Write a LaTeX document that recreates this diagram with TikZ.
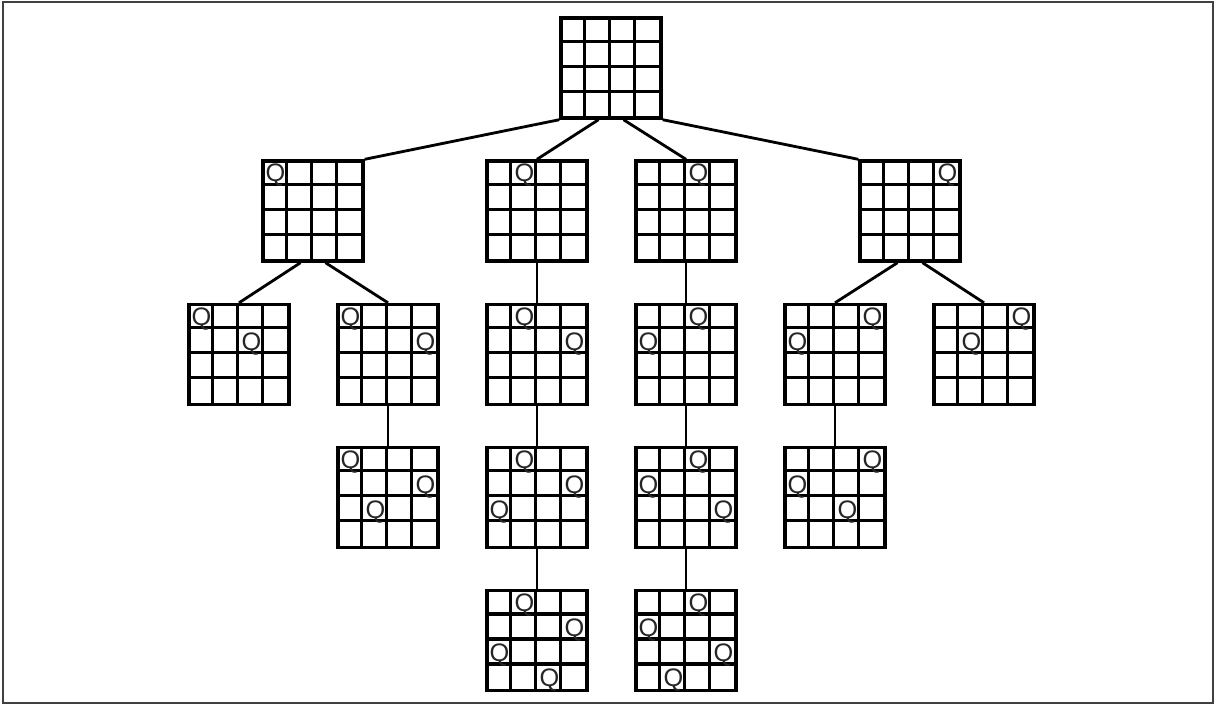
\documentclass[tikz,border=0pt]{standalone}
\usepackage{fontspec}
\setmainfont{Liberation Sans}
\usepackage{tikz}
\usetikzlibrary{calc}

% one 4x4 board: name, centre, queens as row/col
\newcommand{\board}[3]{%
  \node[board] (#1) at (#2) {};
  \foreach \k in {1,2,3} {
    \draw[gridline] ($(#1.north west)+(\k*25,0)$) -- ($(#1.south west)+(\k*25,0)$);
    \draw[gridline] ($(#1.north west)+(0,\k*25)$) -- ($(#1.north east)+(0,\k*25)$);
  }
  \foreach \r/\c in {#3} {
    \node[queen] (#1-q\r\c) at ($(#1.north west)+(\c*25+4,\r*25+4.5)$) {Q};
  }
}

\begin{document}
\begin{tikzpicture}[
    x=0.025cm, y=-0.025cm,
    board/.style={rectangle, draw, line width=2.4pt, minimum size=2.5cm, inner sep=0pt},
    gridline/.style={line width=2.4pt},
    queen/.style={anchor=north west, inner sep=0pt, font=\fontsize{18}{18}\selectfont, text=black!85},
    edge/.style={line width=2pt}
]
    \useasboundingbox (0,0) rectangle (1216,706);
    \draw[line width=1.2pt, black!75] (3,2) rectangle (1213,703);

    % Root
    \board{r}{611,68}{}

    % First queen
    \board{a1}{313,211}{0/0}
    \board{a2}{537,211}{0/1}
    \board{a3}{686,211}{0/2}
    \board{a4}{910,211}{0/3}

    % Second queen
    \board{b1}{239,354.5}{0/0,1/2}
    \board{b2}{388,354.5}{0/0,1/3}
    \board{b3}{537,354.5}{0/1,1/3}
    \board{b4}{686,354.5}{0/2,1/0}
    \board{b5}{835,354.5}{0/3,1/0}
    \board{b6}{984,354.5}{0/3,1/1}

    % Third queen
    \board{c1}{388,497.5}{0/0,1/3,2/1}
    \board{c2}{537,497.5}{0/1,1/3,2/0}
    \board{c3}{686,497.5}{0/2,1/0,2/3}
    \board{c4}{835,497.5}{0/3,1/0,2/2}

    % Solutions
    \board{d1}{537,640.5}{0/1,1/3,2/0,3/2}
    \board{d2}{686,640.5}{0/2,1/0,2/3,3/1}

    % Links
    \draw[edge] (r.south west) -- (a1.north east);
    \draw[edge] ($(r.south)+(-12.5,0)$) -- (a2.north);
    \draw[edge] ($(r.south)+(12.5,0)$) -- (a3.north);
    \draw[edge] (r.south east) -- (a4.north west);
    \draw[edge] ($(a1.south)+(-12.5,0)$) -- (b1.north);
    \draw[edge] ($(a1.south)+(12.5,0)$) -- (b2.north);
    \draw[edge] (a2.south) -- (b3.north);
    \draw[edge] (a3.south) -- (b4.north);
    \draw[edge] ($(a4.south)+(-12.5,0)$) -- (b5.north);
    \draw[edge] ($(a4.south)+(12.5,0)$) -- (b6.north);
    \draw[edge] (b2.south) -- (c1.north);
    \draw[edge] (b3.south) -- (c2.north);
    \draw[edge] (b4.south) -- (c3.north);
    \draw[edge] (b5.south) -- (c4.north);
    \draw[edge] (c2.south) -- (d1.north);
    \draw[edge] (c3.south) -- (d2.north);
\end{tikzpicture}
\end{document}
